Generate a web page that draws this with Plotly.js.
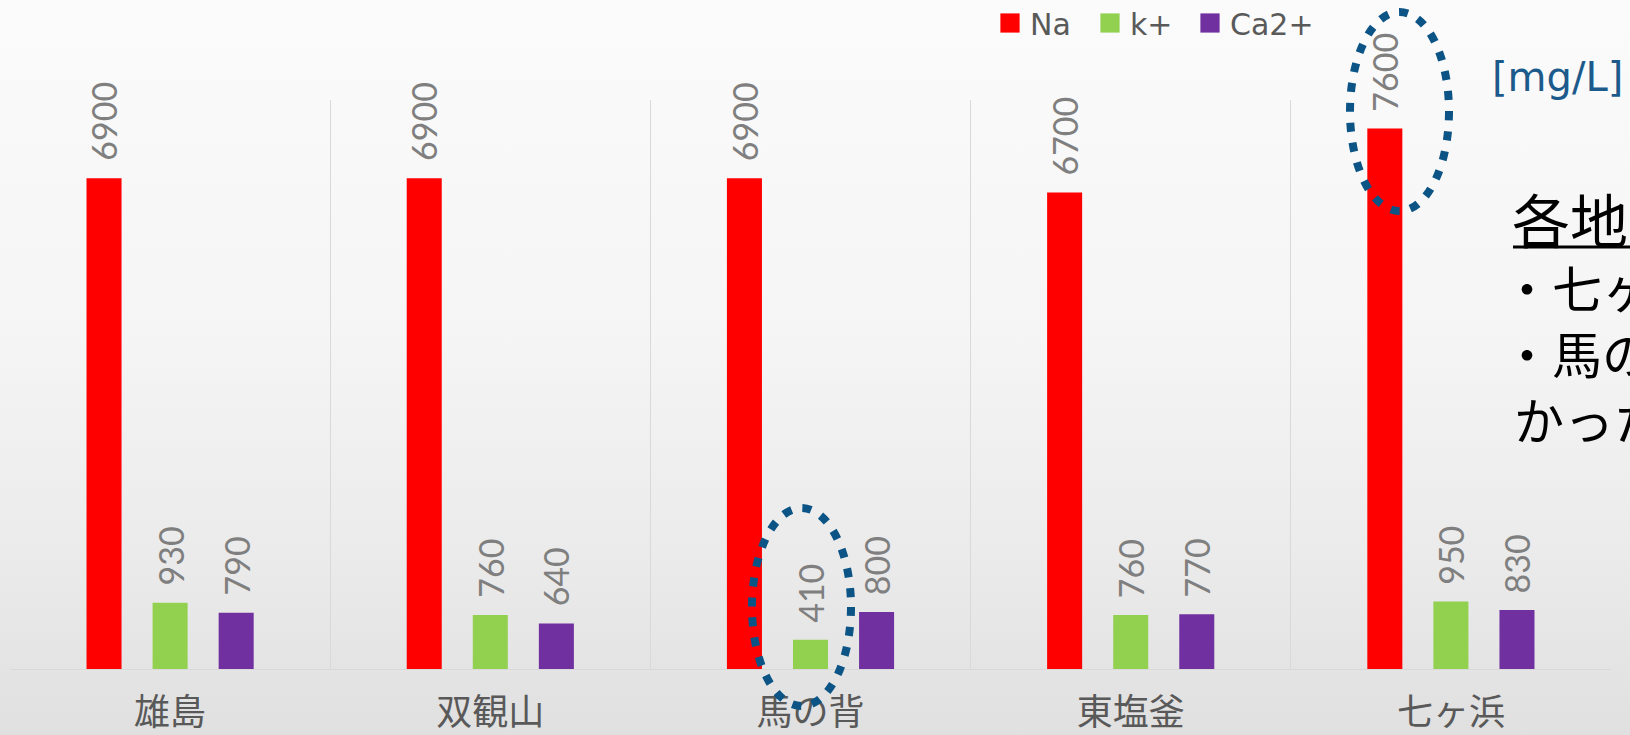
<!DOCTYPE html>
<html>
<head>
<meta charset="utf-8">
<script src="https://cdn.plot.ly/plotly-3.0.1.min.js"></script>
<style>
  html, body { margin:0; padding:0; width:1630px; height:735px; overflow:hidden;
    background: linear-gradient(to bottom, #fbfbfb 0%, #f5f5f5 45%, #ebebeb 75%, #e0e0e0 100%); }
  #chart { width:1630px; height:735px; }
</style>
</head>
<body>
<div id="chart"></div>
<script>
// ---- data ----
const sites = ["雄島", "双観山", "馬の背", "東塩釜", "七ヶ浜"];
const naValues = [6900, 6900, 6900, 6700, 7600];
const kValues = [930, 760, 410, 760, 950];
const caValues = [790, 640, 800, 770, 830];
const seriesNames = ["Na", "k+", "Ca2+"];
const unitLabel = "[mg/L]";
const noteTitle = "各地点の比較";
const noteLines = ["・七ヶ浜のNaが多い", "・馬の背のk+が少な", "かった"];

// ---- styling ----
const colors = ["#ff0000", "#92d050", "#7030a0"];
const legendWidths = [55, 55, 95];
const series = [naValues, kValues, caValues];
const W = 1630, H = 735;
const margin = {l: 10, r: 19, t: 100, b: 66, autoexpand: false};
const plotW = W - margin.l - margin.r;
const plotH = H - margin.t - margin.b;
const bargap = 0.381;
const catW = plotW / sites.length;
const slotW = catW * (1 - bargap) / series.length;

const traces = series.map((vals, i) => ({
  type: "bar",
  name: seriesNames[i],
  x: sites,
  y: vals,
  legendwidth: legendWidths[i],
  marker: {color: colors[i], line: {width: 0}},
  hoverinfo: "none"
}));

const annotations = [];
series.forEach((vals, i) => {
  vals.forEach((v, j) => {
    annotations.push({
      x: sites[j], y: v, xref: "x", yref: "y",
      text: String(v), showarrow: false, textangle: -90,
      xanchor: "center", yanchor: "bottom",
      xshift: (i - 1) * slotW, yshift: 15,
      font: {family: "Lato, 'Noto Sans', sans-serif", size: 34, color: "#7f7f7f"}
    });
  });
});

const px2x = px => (px - margin.l) / plotW;
const px2y = py => (H - margin.b - py) / plotH;

annotations.push({
  xref: "paper", yref: "paper", x: px2x(1490), y: px2y(77),
  xanchor: "left", yanchor: "middle", showarrow: false,
  text: unitLabel,
  font: {family: "'DejaVu Sans', sans-serif", size: 40, color: "#1c5a8c"}
});
annotations.push({
  xref: "paper", yref: "paper", x: px2x(1510), y: px2y(218),
  xanchor: "left", yanchor: "middle", showarrow: false,
  text: noteTitle,
  font: {family: "'Noto Sans CJK JP', sans-serif", size: 58, color: "#000000"}
});
noteLines.forEach((t, k) => {
  annotations.push({
    xref: "paper", yref: "paper", x: px2x(k < 2 ? 1500 : 1512), y: px2y(286 + k * 66),
    xanchor: "left", yanchor: "middle", showarrow: false,
    text: t,
    font: {family: "'Noto Sans CJK JP', sans-serif", size: 50, color: "#000000"}
  });
});

const dotLine = {color: "#0b5485", width: 8, dash: "9px,11px"};
const shapes = [
  {type: "circle", xref: "paper", yref: "paper",
   x0: px2x(1350), x1: px2x(1449), y0: px2y(211), y1: px2y(12), line: dotLine},
  {type: "circle", xref: "paper", yref: "paper",
   x0: px2x(752), x1: px2x(851), y0: px2y(706), y1: px2y(508), line: dotLine},
  {type: "line", xref: "paper", yref: "paper",
   x0: px2x(1513), x1: px2x(1640), y0: px2y(247), y1: px2y(247),
   line: {color: "#000000", width: 3}}
];

const layout = {
  width: W, height: H, margin: margin,
  paper_bgcolor: "rgba(0,0,0,0)", plot_bgcolor: "rgba(0,0,0,0)",
  barmode: "group", bargap: bargap, bargroupgap: 0.47,
  showlegend: true,
  legend: {orientation: "h", x: px2x(990), xanchor: "left", y: px2y(23), yanchor: "middle",
    font: {family: "'DejaVu Sans', sans-serif", size: 30, color: "#595959"},
    itemwidth: 30, bgcolor: "rgba(0,0,0,0)", traceorder: "normal"},
  xaxis: {type: "category", tickson: "boundaries", showgrid: true, gridcolor: "#d9d9d9", gridwidth: 1,
    showline: true, linecolor: "#d9d9d9", linewidth: 1, ticks: "", ticklen: 0,
    ticklabelstandoff: 12,
    tickfont: {family: "'Noto Sans CJK JP', sans-serif", size: 36, color: "#595959"},
    fixedrange: true},
  yaxis: {range: [0, 8000], visible: false, showgrid: false, zeroline: false, fixedrange: true},
  annotations: annotations,
  shapes: shapes,
  hovermode: false
};

Plotly.newPlot("chart", traces, layout, {displayModeBar: false, staticPlot: true}).then(() => {
  document.querySelectorAll(".legend .legendpoints path").forEach(p => {
    const t = p.getAttribute("transform") || "";
    p.setAttribute("transform", t + " scale(1.6)");
  });
});
</script>
</body>
</html>
